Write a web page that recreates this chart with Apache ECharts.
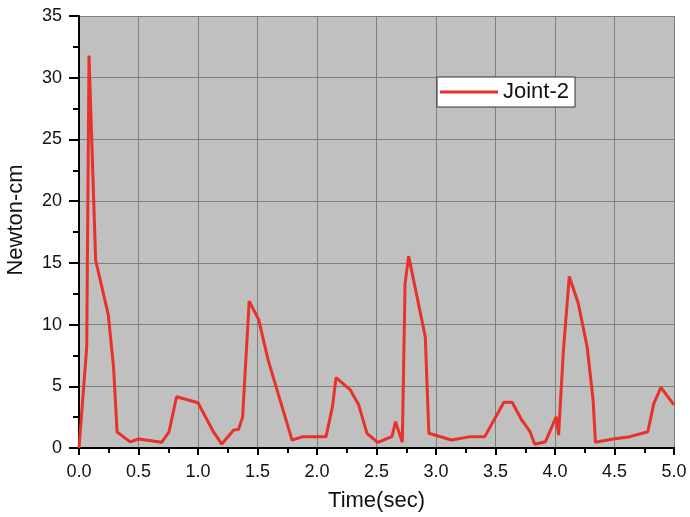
<!DOCTYPE html>
<html>
<head>
<meta charset="utf-8">
<script src="https://cdn.jsdelivr.net/npm/echarts@6/dist/echarts.min.js"></script>
<style>
html,body{margin:0;padding:0;background:#fff;}
#c{width:690px;height:517px;}
</style>
</head>
<body>
<div id="c"></div>
<script>
const seriesName = 'Joint-2';
const timeSec = [0, 0.065, 0.084, 0.14, 0.246, 0.29, 0.32, 0.43, 0.5, 0.695, 0.756, 0.82, 1.0, 1.13, 1.2, 1.3, 1.34, 1.375, 1.43, 1.51, 1.59, 1.79, 1.885, 2.076, 2.13, 2.16, 2.28, 2.35, 2.42, 2.51, 2.63, 2.66, 2.717, 2.74, 2.77, 2.91, 2.94, 3.13, 3.29, 3.41, 3.57, 3.64, 3.72, 3.79, 3.83, 3.92, 4.01, 4.03, 4.07, 4.12, 4.196, 4.27, 4.32, 4.34, 4.49, 4.63, 4.78, 4.83, 4.89, 5.0];
const torque = [0, 8.2, 31.8, 15.2, 10.8, 6.6, 1.3, 0.5, 0.73, 0.46, 1.3, 4.15, 3.67, 1.3, 0.32, 1.46, 1.5, 2.5, 11.9, 10.4, 7.1, 0.65, 0.92, 0.92, 3.35, 5.7, 4.7, 3.5, 1.19, 0.46, 0.92, 2.13, 0.46, 13.3, 15.55, 9.0, 1.19, 0.65, 0.92, 0.92, 3.7, 3.7, 2.27, 1.32, 0.3, 0.51, 2.53, 1.05, 7.8, 13.9, 11.7, 8.2, 3.9, 0.46, 0.73, 0.92, 1.32, 3.6, 4.9, 3.5];
const xAxisTitle = 'Time(sec)';
const yAxisTitle = 'Newton-cm';

const chart = echarts.init(document.getElementById('c'), null, {renderer:'canvas'});
const font = 'Liberation Sans, Arial, sans-serif';
chart.setOption({
  animation:false,
  textStyle:{fontFamily:font},
  grid:{left:79, right:16, top:16, bottom:69, show:true, backgroundColor:'#c0c0c0', borderWidth:0, containLabel:false, outerBoundsMode:'none'},
  legend:{
    data:[seriesName], left:437, top:77, padding:[4,6,4,3],
    borderColor:'#333', borderWidth:1, backgroundColor:'#fff', borderRadius:0,
    icon:'rect', itemWidth:58, itemHeight:3,
    textStyle:{fontSize:22, color:'#111', fontFamily:font}
  },
  xAxis:{
    type:'value', min:0, max:5, interval:0.5,
    name:xAxisTitle, nameLocation:'middle', nameGap:42,
    nameTextStyle:{fontSize:22, color:'#111', fontFamily:font},
    axisLine:{show:true, onZero:false, lineStyle:{color:'#000', width:2}},
    axisTick:{show:true, inside:false, length:7, lineStyle:{color:'#000', width:2}},
    minorTick:{show:true, splitNumber:2, length:5, lineStyle:{color:'#000', width:2}},
    axisLabel:{fontSize:18, color:'#111', margin:15, formatter:v=>v.toFixed(1)},
    splitLine:{show:true, lineStyle:{color:'#7f7f7f', width:1}}
  },
  yAxis:{
    type:'value', min:0, max:35, interval:5,
    name:yAxisTitle, nameLocation:'middle', nameGap:52, nameRotate:90,
    nameTextStyle:{fontSize:22, color:'#111', fontFamily:font, padding:[0,0,0,24]},
    axisLine:{show:true, lineStyle:{color:'#000', width:2}},
    axisTick:{show:true, inside:false, length:10, lineStyle:{color:'#000', width:2}},
    minorTick:{show:true, splitNumber:2, length:6, lineStyle:{color:'#000', width:2}},
    axisLabel:{fontSize:18, color:'#111', margin:17},
    splitLine:{show:true, lineStyle:{color:'#7f7f7f', width:1}}
  },
  series:[{
    name:seriesName, type:'line', symbol:'none',
    data:timeSec.map((t,i)=>[t, torque[i]]),
    lineStyle:{color:'#e8312a', width:3},
    itemStyle:{color:'#e8312a'}
  }]
});
</script>
</body>
</html>
